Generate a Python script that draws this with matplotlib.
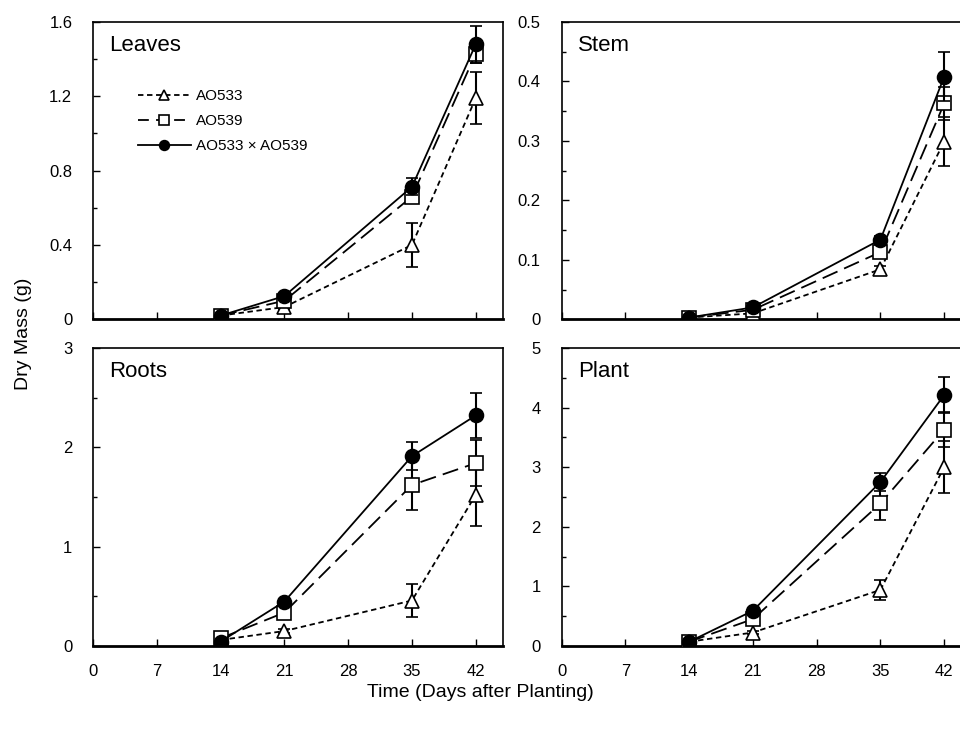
import numpy as np
import matplotlib.pyplot as plt
from matplotlib.lines import Line2D
from matplotlib.ticker import MultipleLocator

plt.rcParams.update({'font.family': ['Liberation Sans', 'DejaVu Sans'], 'font.size': 12})

# Days after planting
days = [14, 21, 35, 42]
names = ['AO533', 'AO539', 'AO533 × AO539']

# Dry mass (g) per organ, one list per line: AO533, AO539, cross
leaves = [[0.02, 0.066, 0.40, 1.19],
          [0.02, 0.10, 0.66, 1.43],
          [0.02, 0.125, 0.713, 1.48]]
leaves_err = [[0.0, 0.01, 0.12, 0.14],
              [0.0, 0.01, 0.03, 0.05],
              [0.0, 0.01, 0.045, 0.10]]

stem = [[0.003, 0.010, 0.084, 0.299],
        [0.003, 0.016, 0.113, 0.363],
        [0.003, 0.020, 0.134, 0.408]]
stem_err = [[0.0, 0.002, 0.006, 0.041],
            [0.0, 0.002, 0.006, 0.027],
            [0.0, 0.002, 0.006, 0.041]]

roots = [[0.06, 0.15, 0.457, 1.52],
         [0.077, 0.336, 1.62, 1.84],
         [0.044, 0.447, 1.91, 2.32]]
roots_err = [[0.0, 0.02, 0.165, 0.31],
             [0.0, 0.02, 0.25, 0.23],
             [0.0, 0.02, 0.14, 0.23]]

plant = [[0.07, 0.225, 0.94, 3.0],
         [0.07, 0.45, 2.39, 3.63],
         [0.07, 0.59, 2.75, 4.21]]
plant_err = [[0.0, 0.03, 0.17, 0.44],
             [0.0, 0.03, 0.27, 0.30],
             [0.0, 0.03, 0.15, 0.31]]

panels = [('Leaves', leaves, leaves_err, 1.6, 0.4, 0.2, '{:.1f}'),
          ('Stem', stem, stem_err, 0.5, 0.1, 0.05, '{:.1f}'),
          ('Roots', roots, roots_err, 3, 1, 0.5, '{:.0f}'),
          ('Plant', plant, plant_err, 5, 1, 0.5, '{:.0f}')]

styles = [dict(ls=(0, (3, 2)), marker='^', mfc='white'),
          dict(ls=(0, (9, 4)), marker='s', mfc='white'),
          dict(ls='-', marker='o', mfc='black')]
legend_ls = [(0, (3, 2)), (0, (6, 4)), '-']

fig = plt.figure(figsize=(9.6, 7.34), dpi=100)
boxes = [[0.097, 0.565, 0.427, 0.405],
         [0.585, 0.565, 0.427, 0.405],
         [0.097, 0.120, 0.427, 0.406],
         [0.585, 0.120, 0.427, 0.406]]

for i, (title, vals, errs, ymax, major, minor, fmt) in enumerate(panels):
    ax = fig.add_axes(boxes[i])
    for k in range(3):
        ax.errorbar(days, vals[k], yerr=errs[k], color='black', lw=1.3,
                    ms=10, mec='black', mew=1.2, capsize=4, elinewidth=1.5,
                    capthick=1.5, zorder=3 + k, **styles[k])
    ax.set_xlim(0, 45)
    ax.set_ylim(0, ymax)
    ax.xaxis.set_major_locator(MultipleLocator(7))
    ax.yaxis.set_minor_locator(MultipleLocator(minor))
    ax.set_yticks(np.arange(0, ymax + major / 2, major))
    ax.set_yticklabels(['0'] + [fmt.format(v) for v in np.arange(major, ymax + major / 2, major)])
    ax.tick_params(direction='in', length=5, width=1, labelsize=12)
    ax.tick_params(which='minor', direction='in', length=3, width=1)
    ax.tick_params(axis='x', pad=13)
    ax.tick_params(axis='y', pad=15)
    ax.spines['bottom'].set_linewidth(2)
    for s in ['left', 'top', 'right']:
        ax.spines[s].set_linewidth(1.2)
    if i < 2:
        ax.tick_params(axis='x', labelbottom=False)
    ax.text(0.04, 0.955, title, transform=ax.transAxes, fontsize=16,
            va='top', ha='left')
    if i == 0:
        handles = [Line2D([], [], color='black', lw=1.3, ms=7, mec='black',
                          mew=1.2, marker=styles[k]['marker'],
                          mfc=styles[k]['mfc'], ls=legend_ls[k]) for k in range(3)]
        ax.legend(handles, names, loc='upper left', bbox_to_anchor=(0.075, 0.82),
                  frameon=False, fontsize=11, handlelength=3.5, numpoints=1,
                  labelspacing=0.72, handletextpad=0.3)

fig.text(0.024, 0.545, 'Dry Mass (g)', rotation=90, fontsize=14, va='center', ha='center')
fig.text(0.5, 0.057, 'Time (Days after Planting)', fontsize=14, va='center', ha='center')

plt.savefig('out.png', dpi=100)
